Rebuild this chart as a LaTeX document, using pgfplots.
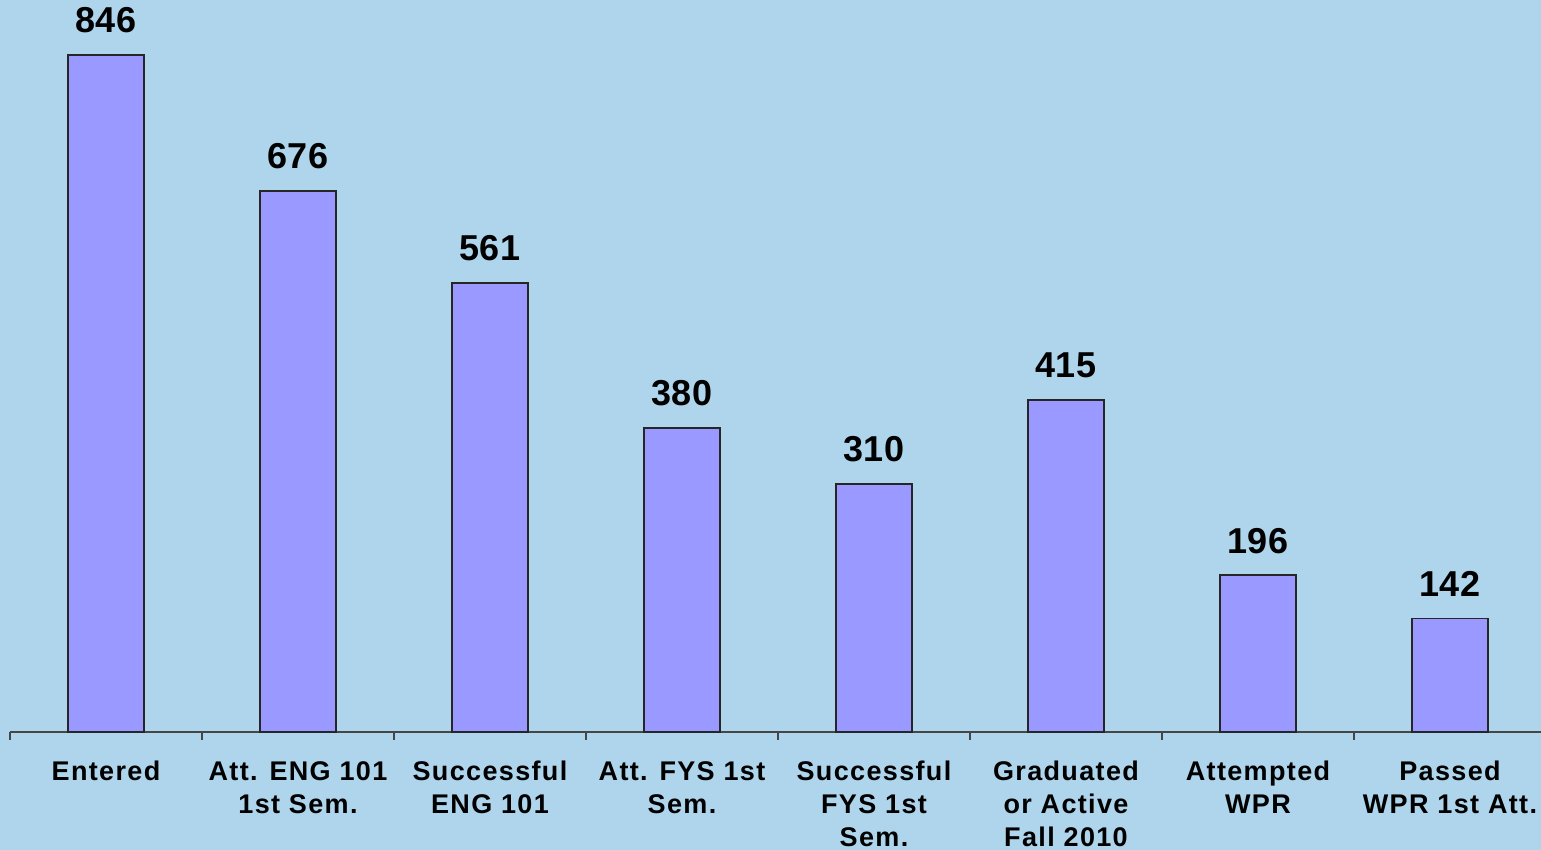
\documentclass[border=0pt]{standalone}
\usepackage{pgfplots}
\pgfplotsset{compat=1.18}
\usepackage{fontspec}
\setmainfont{Liberation Sans}
\newfontfamily\lab[LetterSpace=5]{Liberation Sans}
\definecolor{bg}{RGB}{174,213,236}
\definecolor{barc}{RGB}{153,153,255}
\definecolor{axc}{RGB}{70,70,70}
\begin{document}
\begin{tikzpicture}[x=1pt,y=1pt]
\fill[bg] (0,0) rectangle (770.5,425);
\useasboundingbox (0,0) rectangle (770.5,425);
\begin{axis}[
  at={(5pt,59pt)}, anchor=south west,
  scale only axis, width=765.5pt, height=366pt,
  xmin=-0.5, xmax=7.474, ymin=0, ymax=914.7,
  axis x line*=bottom, axis y line=none,
  axis line style={draw=axc, line width=0.75pt},
  ybar, bar width=38pt,
  xtick={0,...,7},
  xticklabels={Entered, {Att. ENG 101\\1st Sem.}, {Successful\\ENG 101}, {Att. FYS 1st\\Sem.}, {Successful\\FYS 1st\\Sem.}, {Graduated\\or Active\\Fall 2010}, {Attempted\\WPR}, {Passed\\WPR 1st Att.}},
  major tick length=0pt,
  minor xtick={-0.5,0.5,...,7.5},
  minor tick length=4pt,
  tick align=outside,
  minor tick style={draw=axc, line width=0.75pt},
  xticklabel style={font=\lab\bfseries\fontsize{13.5}{16.5}\selectfont, align=center, anchor=north, inner sep=0pt, yshift=-14.5pt},
  nodes near coords,
  /pgf/number format/assume math mode=true,
  nodes near coords style={font=\bfseries\fontsize{18}{20}\selectfont, anchor=south, inner sep=0pt, yshift=10.5pt, text=black},
  clip=false,
]
\addplot[fill=barc, draw=black!85, line width=0.75pt] coordinates {(0,846) (1,676) (2,561) (3,380) (4,310) (5,415) (6,196) (7,142)};
\end{axis}
\end{tikzpicture}
\end{document}
